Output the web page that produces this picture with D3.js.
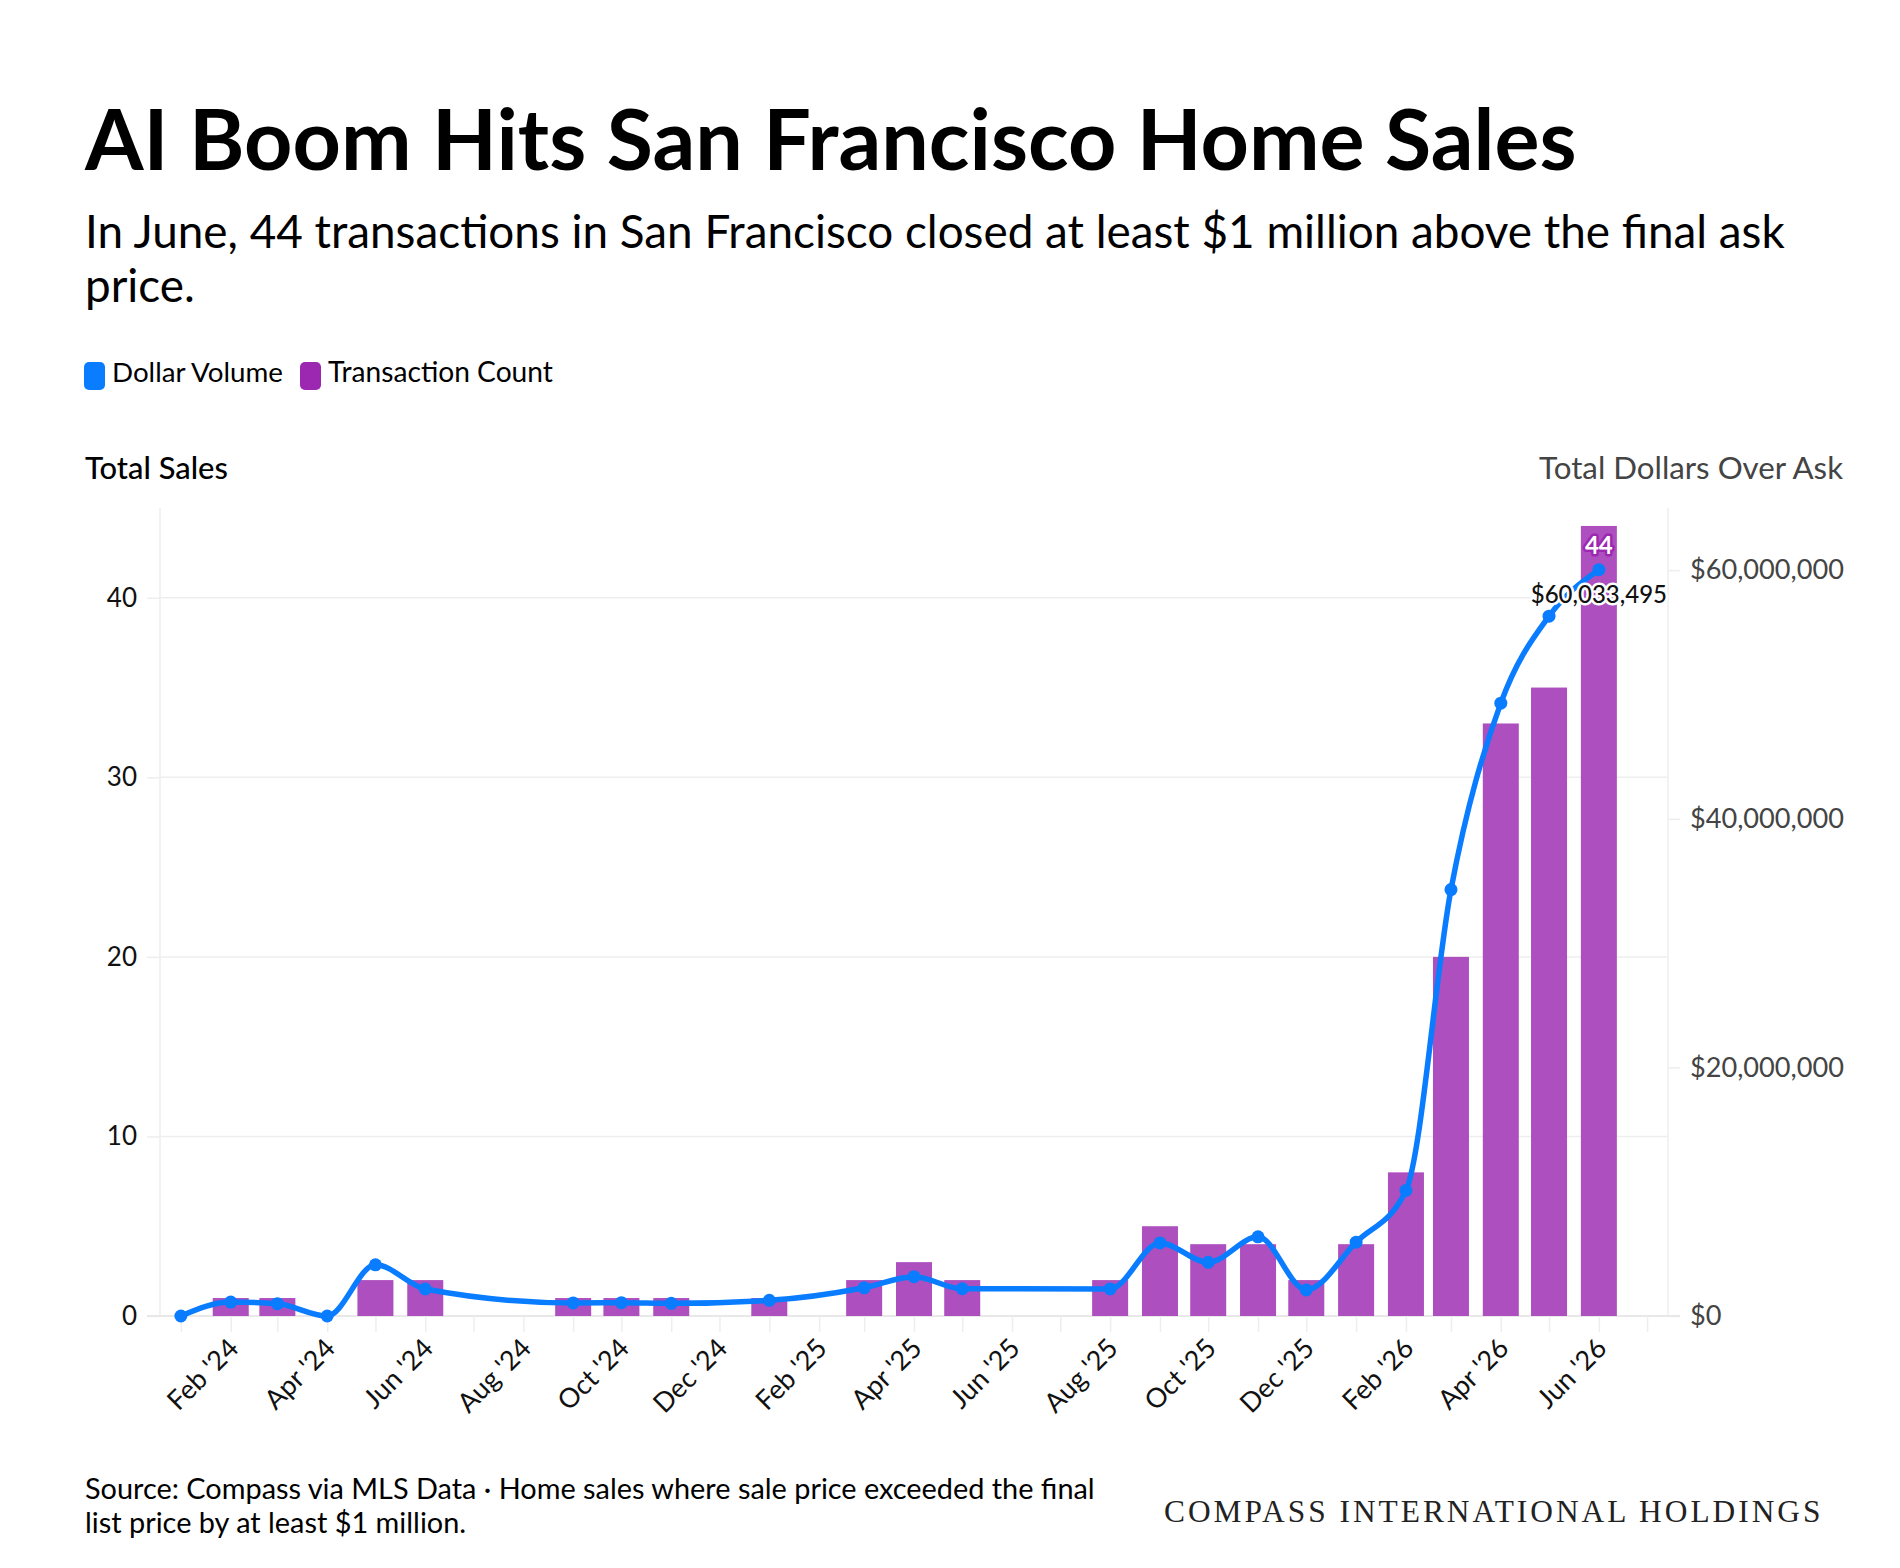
<!DOCTYPE html>
<html>
<head>
<meta charset="utf-8">
<script src="https://cdn.jsdelivr.net/npm/d3@7/dist/d3.min.js"></script>
<style>
  html, body { margin: 0; padding: 0; background: #fff; }
  svg { display: block; font-family: Lato, "Noto Sans", sans-serif; }
</style>
</head>
<body>
<svg id="chart" width="1900" height="1568"></svg>
<script>
// ---------------- DATA ----------------
const months = ["2024-01","2024-02","2024-03","2024-04","2024-05","2024-06","2024-07","2024-08","2024-09","2024-10","2024-11","2024-12",
                "2025-01","2025-02","2025-03","2025-04","2025-05","2025-06","2025-07","2025-08","2025-09","2025-10","2025-11","2025-12",
                "2026-01","2026-02","2026-03","2026-04","2026-05","2026-06"];
const transactionCount = [0,1,1,0,2,2,null,null,1,1,1,null,
                          1,null,2,3,2,null,null,2,5,4,4,2,
                          4,8,20,33,35,44];
const dollarVolume = [0,1120000,990000,0,4120000,2170000,null,null,1050000,1070000,1020000,null,
                      1260000,null,2270000,3160000,2190000,null,null,2180000,5880000,4320000,6370000,2100000,
                      5940000,10100000,34300000,49300000,56300000,60033495];
const leftTicks = [0,10,20,30,40];
const rightTicks = [0,20000000,40000000,60000000];
const titleText = "AI Boom Hits San Francisco Home Sales";
const subtitleLines = ["In June, 44 transactions in San Francisco closed at least $1 million above the final ask", "price."];
const legendLabels = ["Dollar Volume", "Transaction Count"];
const footerLines = ["Source: Compass via MLS Data \u00b7 Home sales where sale price exceeded the final", "list price by at least $1 million."];
const brandText = "COMPASS INTERNATIONAL HOLDINGS";

// ---------------- SETUP ----------------
const svg = d3.select("#chart");
const BLUE = "#0a7cff", PURPLE = "#9c27b0", BAR = "#ad4fbe";
const parse = d3.utcParse("%Y-%m");
const rows = months.map((m, i) => ({ date: parse(m), count: transactionCount[i], vol: dollarVolume[i] }));

const plotL = 160, plotR = 1668, plotT = 508, plotB = 1316;
const x = d3.scaleUtc()
  .domain([d3.utcDay.offset(parse("2024-01"), -13), d3.utcDay.offset(parse("2026-06"), 43)])
  .range([plotL, plotR]);
const yL = d3.scaleLinear().domain([0, 45]).range([plotB, plotT]);
const yR = d3.scaleLinear().domain([0, 65000000]).range([plotB, plotT]);

function fit(sel, w) {
  const L = sel.node().getComputedTextLength();
  const fs = parseFloat(sel.attr("font-size"));
  sel.attr("font-size", fs * w / L);
  return fs * w / L;
}

// ---------------- TITLES ----------------
const title = svg.append("text").attr("x", 85).attr("y", 170)
  .attr("font-size", 80).attr("font-weight", 700).attr("fill", "#000").text(titleText);
fit(title, 1492);

const sub1 = svg.append("text").attr("x", 85).attr("y", 248)
  .attr("font-size", 40).attr("fill", "#000").text(subtitleLines[0]);
const subFs = fit(sub1, 1700);
svg.append("text").attr("x", 85).attr("y", 302)
  .attr("font-size", subFs).attr("fill", "#000").text(subtitleLines[1]);

// ---------------- LEGEND ----------------
const legendItems = [
  { label: legendLabels[0], color: BLUE, sx: 84, tx: 112, w: 171 },
  { label: legendLabels[1], color: PURPLE, sx: 300, tx: 328, w: 225 }
];
legendItems.forEach(d => {
  svg.append("rect").attr("x", d.sx).attr("y", 362).attr("width", 21).attr("height", 28)
    .attr("rx", 5).attr("fill", d.color);
  const t = svg.append("text").attr("x", d.tx).attr("y", 382).attr("font-size", 26)
    .attr("fill", "#000").text(d.label);
  fit(t, d.w);
});

// axis titles
const tl = svg.append("text").attr("x", 85).attr("y", 479).attr("font-size", 28)
  .attr("font-weight", 500).attr("fill", "#000").text("Total Sales");
fit(tl, 143);
const tr = svg.append("text").attr("x", 1843).attr("y", 479).attr("font-size", 28)
  .attr("text-anchor", "end").attr("fill", "#444").text("Total Dollars Over Ask");
fit(tr, 304);

// ---------------- GRID ----------------
svg.append("g").selectAll("line").data(leftTicks.filter(d => d > 0)).join("line")
  .attr("x1", plotL).attr("x2", plotR)
  .attr("y1", d => yL(d)).attr("y2", d => yL(d))
  .attr("stroke", "#eeeeee").attr("stroke-width", 1.5);
[plotL, plotR].forEach(px => {
  svg.append("line").attr("x1", px).attr("x2", px).attr("y1", plotT).attr("y2", plotB)
    .attr("stroke", "#eeeeee").attr("stroke-width", 1.5);
});

// ---------------- AXES ----------------
const axL = svg.append("g").attr("transform", `translate(${plotL},0)`)
  .call(d3.axisLeft(yL).tickValues(leftTicks).tickSize(13).tickSizeOuter(0).tickPadding(10));
axL.select(".domain").remove();
axL.selectAll(".tick line").attr("stroke", "#eeeeee").attr("stroke-width", 1.5);
axL.selectAll(".tick text").attr("font-size", 26).attr("fill", "#111")
  .style("font-family", "Lato, sans-serif");

const axR = svg.append("g").attr("transform", `translate(${plotR},0)`)
  .call(d3.axisRight(yR).tickValues(rightTicks).tickSize(12).tickSizeOuter(0).tickPadding(10)
    .tickFormat(d3.format("$,")));
axR.select(".domain").remove();
axR.selectAll(".tick line").attr("stroke", "#eeeeee").attr("stroke-width", 1.5);
const rTexts = axR.selectAll(".tick text").attr("font-size", 25).attr("fill", "#444")
  .style("font-family", "Lato, sans-serif");
{
  let wl = 0;
  rTexts.each(function () { const l = this.getComputedTextLength(); if (l > wl) wl = l; });
  rTexts.attr("font-size", 25 * 154 / wl);
}

// baseline
svg.append("line").attr("x1", 147).attr("x2", 1680).attr("y1", plotB).attr("y2", plotB)
  .attr("stroke", "#e8e8e8").attr("stroke-width", 2);

const fmtMonth = d3.utcFormat("%b '%y");
const axB = svg.append("g").attr("transform", `translate(0,${plotB})`)
  .call(d3.axisBottom(x).ticks(d3.utcMonth.every(1)).tickSize(16).tickSizeOuter(0)
    .tickFormat(d => (d.getUTCMonth() % 2 === 1 ? fmtMonth(d) : "")));
axB.select(".domain").remove();
axB.selectAll(".tick line").attr("stroke", "#eeeeee").attr("stroke-width", 1.5);
axB.selectAll(".tick text")
  .attr("font-size", 27).attr("fill", "#111").style("font-family", "Lato, sans-serif")
  .attr("text-anchor", "end").attr("x", 0).attr("y", 0).attr("dy", 0)
  .attr("transform", "translate(9,34) rotate(-45)");

// ---------------- BARS ----------------
const bw = 36;
svg.append("g").selectAll("rect").data(rows.filter(d => d.count)).join("rect")
  .attr("x", d => x(d.date) - bw / 2).attr("width", bw)
  .attr("y", d => yL(d.count)).attr("height", d => plotB - yL(d.count))
  .attr("fill", BAR);

// ---------------- LINE ----------------
const lineRows = rows.filter(d => d.vol !== null);
const line = d3.line().x(d => x(d.date)).y(d => yR(d.vol)).curve(d3.curveMonotoneX);
svg.append("path").datum(lineRows).attr("d", line)
  .attr("fill", "none").attr("stroke", BLUE).attr("stroke-width", 5.5)
  .attr("stroke-linejoin", "round").attr("stroke-linecap", "round");
svg.append("g").selectAll("circle").data(lineRows).join("circle")
  .attr("cx", d => x(d.date)).attr("cy", d => yR(d.vol)).attr("r", 6.5).attr("fill", BLUE);

// ---------------- LABELS ----------------
const last = rows[rows.length - 1];
svg.append("text").attr("x", x(last.date)).attr("y", yL(last.count) + 28)
  .attr("text-anchor", "middle").attr("font-size", 24).attr("font-weight", 700)
  .attr("fill", "#fff").attr("stroke", PURPLE).attr("stroke-width", 5).attr("paint-order", "stroke")
  .attr("stroke-linejoin", "round").text(last.count);
svg.append("text").attr("x", x(last.date)).attr("y", yR(last.vol) + 33)
  .attr("text-anchor", "middle").attr("font-size", 24).attr("font-weight", 500)
  .attr("fill", "#111").attr("stroke", "#fff").attr("stroke-width", 5).attr("paint-order", "stroke")
  .attr("stroke-linejoin", "round").text(d3.format("$,")(last.vol));

// ---------------- FOOTER ----------------
const f1 = svg.append("text").attr("x", 85).attr("y", 1499).attr("font-size", 24)
  .attr("fill", "#000").text(footerLines[0]);
const fFs = fit(f1, 1010);
svg.append("text").attr("x", 85).attr("y", 1533).attr("font-size", fFs)
  .attr("fill", "#000").text(footerLines[1]);

const brand = svg.append("text").attr("x", 1164).attr("y", 1522)
  .style("font-family", "'Liberation Serif', 'DejaVu Serif', serif").attr("font-size", 30)
  .attr("letter-spacing", 3).attr("fill", "#222").text(brandText);
fit(brand, 664);
</script>
</body>
</html>
